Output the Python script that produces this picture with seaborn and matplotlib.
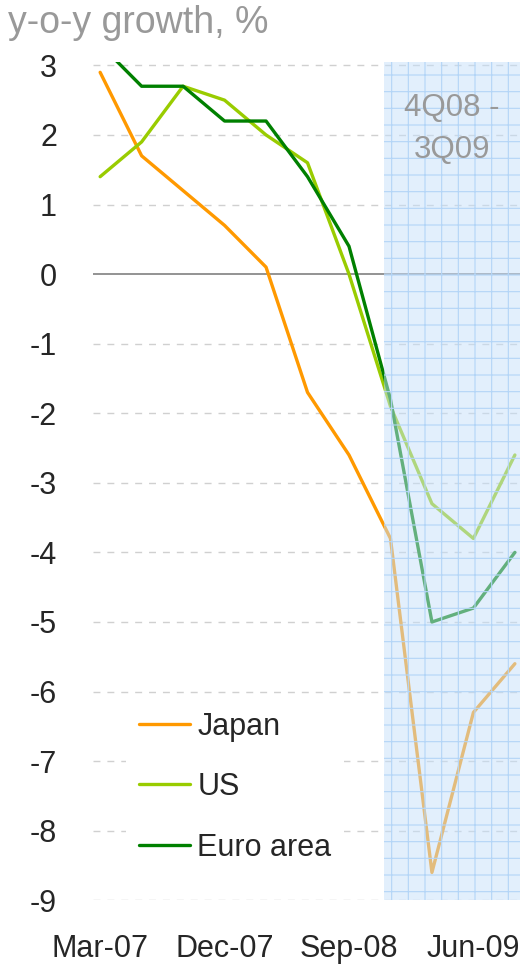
import numpy as np
import pandas as pd
import seaborn as sns
from matplotlib import pyplot as plt

sns.set_style('white')
plt.rcParams['font.family'] = ['Liberation Sans', 'DejaVu Sans']
plt.rcParams['hatch.linewidth'] = 0.8
plt.rcParams['axes.unicode_minus'] = False

## DATA
quarters = ["Mar-07", "Jun-07", "Sep-07", "Dec-07", "Mar-08", "Jun-08",
            "Sep-08", "Dec-08", "Mar-09", "Jun-09", "Sep-09"]
japan = [2.9, 1.7, 1.2, 0.7, 0.1, -1.7, -2.6, -3.8, -8.6, -6.3, -5.6]
us = [1.4, 1.9, 2.7, 2.5, 2.0, 1.6, 0.0, -1.9, -3.3, -3.8, -2.6]
euro = [3.3, 2.7, 2.7, 2.2, 2.2, 1.4, 0.4, -1.8, -5.0, -4.8, -4.0]
series_names = ["Japan", "US", "Euro area"]
colors = ["#FF9900", "#99CC00", "#008000"]
tick_quarters = ["Mar-07", "Dec-07", "Sep-08", "Jun-09"]
shade_from, shade_to = "Dec-08", "Sep-09"

df = pd.DataFrame({
    "q": list(range(len(quarters))) * 3,
    "value": japan + us + euro,
    "series": np.repeat(series_names, len(quarters)),
})

fig = plt.figure(figsize=(5.23, 9.67), dpi=100)
ax = fig.add_axes([0.178, 0.069, 0.816, 0.867])

sns.lineplot(data=df, x="q", y="value", hue="series", palette=colors,
             hue_order=series_names, linewidth=2.4, ax=ax, zorder=2)

## shaded period drawn over the lines
x0 = quarters.index(shade_from) - 0.15
ax.axvspan(x0, 10.2, facecolor="#c6e0fb", alpha=0.5, lw=0, zorder=3)
ax.axvspan(x0, 10.2, facecolor="none", edgecolor="#b3d5f7", hatch="+", lw=0, zorder=3)
ax.text((x0 + 10.1) / 2, 2.6, "4Q08 -\n3Q09", ha="center", va="top",
        fontsize=22.5, color="#999999", linespacing=1.5, zorder=4)

ax.set_xlim(-0.17, 10.12)
ax.set_ylim(-9, 3.05)
ax.set_yticks(range(-9, 4))
ax.set_xticks([quarters.index(t) for t in tick_quarters])
ax.set_xticklabels(tick_quarters)
ax.tick_params(axis="both", labelsize=22, length=0)
ax.tick_params(axis="y", pad=26)
ax.tick_params(axis="x", pad=24)
ax.set_xlabel("")
ax.set_ylabel("")
for s in ax.spines.values():
    s.set_visible(False)
for v in range(-9, 4):
    if v != 0:
        ax.axhline(v, color="#d0d0d0", lw=1, ls=(0, (5, 5)), zorder=1)
ax.axhline(0, color="#808080", lw=1.2, zorder=1)

leg = ax.legend(loc="lower left", bbox_to_anchor=(0.042, 0.012), fontsize=22,
                frameon=True, facecolor="white", edgecolor="none", framealpha=1,
                handlelength=1.67, handletextpad=0.25, labelspacing=1.0)
for line in leg.get_lines():
    line.set_linewidth(2.4)

fig.text(0.015, 0.976, "y-o-y growth, %", fontsize=27, color="#999999",
         ha="left", va="center")

plt.savefig("out.png", dpi=100)
